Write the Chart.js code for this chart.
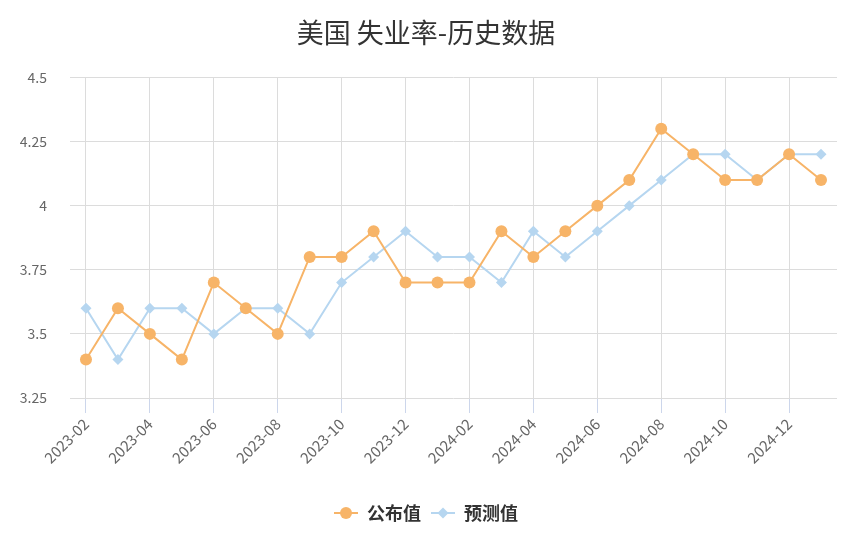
<!DOCTYPE html>
<html>
<head>
<meta charset="utf-8">
<script src="https://cdn.jsdelivr.net/npm/chart.js@4/dist/chart.umd.min.js"></script>
<style>
  html, body { margin: 0; padding: 0; background: #fff; }
  #wrap { width: 858px; height: 544px; }
</style>
</head>
<body>
<div id="wrap"><canvas id="chart"></canvas></div>
<script>
const months = [
  '2023-02', '2023-03', '2023-04', '2023-05', '2023-06', '2023-07',
  '2023-08', '2023-09', '2023-10', '2023-11', '2023-12', '2024-01',
  '2024-02', '2024-03', '2024-04', '2024-05', '2024-06', '2024-07',
  '2024-08', '2024-09', '2024-10', '2024-11', '2024-12', '2025-01',
];
const actual = [
  3.4, 3.6, 3.5, 3.4, 3.7, 3.6, 3.5, 3.8, 3.8, 3.9, 3.7, 3.7,
  3.7, 3.9, 3.8, 3.9, 4.0, 4.1, 4.3, 4.2, 4.1, 4.1, 4.2, 4.1,
];
const forecast = [
  3.6, 3.4, 3.6, 3.6, 3.5, 3.6, 3.6, 3.5, 3.7, 3.8, 3.9, 3.8,
  3.8, 3.7, 3.9, 3.8, 3.9, 4.0, 4.1, 4.2, 4.2, 4.1, 4.2, 4.2,
];
const seriesNames = ['公布值', '预测值'];
const titleText = '美国 失业率-历史数据';

const ORANGE = '#f7b468';
const BLUE = '#b6d6f0';
const FONT = "'Noto Sans CJK SC', 'Noto Sans', sans-serif";

// small line + marker icon for the legend
function legendIcon(color, shape) {
  const c = document.createElement('canvas');
  c.width = 24;
  c.height = 14;
  const g = c.getContext('2d');
  g.strokeStyle = color;
  g.lineWidth = 2;
  g.beginPath();
  g.moveTo(0, 7);
  g.lineTo(24, 7);
  g.stroke();
  g.fillStyle = color;
  g.beginPath();
  if (shape === 'circle') {
    g.arc(12, 7, 6, 0, Math.PI * 2);
  } else {
    g.moveTo(12, 1.5);
    g.lineTo(17.5, 7);
    g.lineTo(12, 12.5);
    g.lineTo(6.5, 7);
    g.closePath();
  }
  g.fill();
  return c;
}
const icons = [legendIcon(ORANGE, 'circle'), legendIcon(BLUE, 'diamond')];

const CHART_LEFT = 70;
const RIGHT_GAP = 15;
const X_AXIS_HEIGHT = 96;

new Chart(document.getElementById('chart'), {
  type: 'line',
  data: {
    labels: months,
    datasets: [
      {
        label: seriesNames[0],
        data: actual,
        borderColor: ORANGE,
        backgroundColor: ORANGE,
        borderWidth: 2,
        pointStyle: 'circle',
        pointRadius: 6,
        pointBorderWidth: 0,
        pointBackgroundColor: ORANGE,
        tension: 0,
      },
      {
        label: seriesNames[1],
        data: forecast,
        borderColor: BLUE,
        backgroundColor: BLUE,
        borderWidth: 2,
        pointStyle: 'rectRot',
        pointRadius: 5.5,
        pointBorderWidth: 0,
        pointBackgroundColor: BLUE,
        tension: 0,
      },
    ],
  },
  options: {
    responsive: true,
    maintainAspectRatio: false,
    animation: false,
    layout: { padding: { left: 0, right: 6, top: 0, bottom: 12 } },
    plugins: {
      title: {
        display: true,
        text: titleText,
        color: '#333',
        font: { family: FONT, size: 27, weight: 'normal' },
        padding: { top: 17, bottom: 28 },
      },
      legend: {
        position: 'bottom',
        labels: {
          color: '#333',
          font: { family: FONT, size: 18, weight: 'bold' },
          usePointStyle: true,
          pointStyleWidth: 24,
          boxHeight: 14,
          padding: 10,
          generateLabels(chart) {
            const items = Chart.defaults.plugins.legend.labels.generateLabels(chart);
            items.forEach((it, i) => { it.pointStyle = icons[i]; });
            return items;
          },
        },
      },
      tooltip: { enabled: false },
    },
    scales: {
      x: {
        offset: true,
        border: { display: false },
        afterFit(scale) { scale.height = X_AXIS_HEIGHT; },
        grid: {
          offset: false,
          color: (ctx) => (ctx.index % 2 === 0 ? '#dcdcdc' : 'rgba(0,0,0,0)'),
          tickColor: (ctx) => (ctx.index % 2 === 0 ? '#ccd6eb' : 'rgba(0,0,0,0)'),
          tickLength: 15,
        },
        ticks: {
          autoSkip: false,
          maxRotation: 45,
          minRotation: 45,
          padding: 2,
          color: '#666',
          font: { family: FONT, size: 15 },
          callback(v, i) {
            return i % 2 === 0 ? months[i] : '';
          },
        },
      },
      y: {
        min: 3.25,
        max: 4.5,
        border: { display: false },
        grid: { color: '#dcdcdc', drawTicks: false },
        afterFit(scale) { scale.width = CHART_LEFT; },
        ticks: {
          stepSize: 0.25,
          padding: 23,
          color: '#666',
          font: { family: FONT, size: 14 },
          callback: (v) => String(+v.toFixed(2)),
        },
      },
      // empty spacer on the right so the title and legend sit centred
      spacer: {
        type: 'linear',
        position: 'right',
        display: true,
        border: { display: false },
        grid: { drawOnChartArea: false, drawTicks: false },
        ticks: { display: false },
        afterFit(scale) { scale.width = RIGHT_GAP; },
      },
    },
  },
});
</script>
</body>
</html>
